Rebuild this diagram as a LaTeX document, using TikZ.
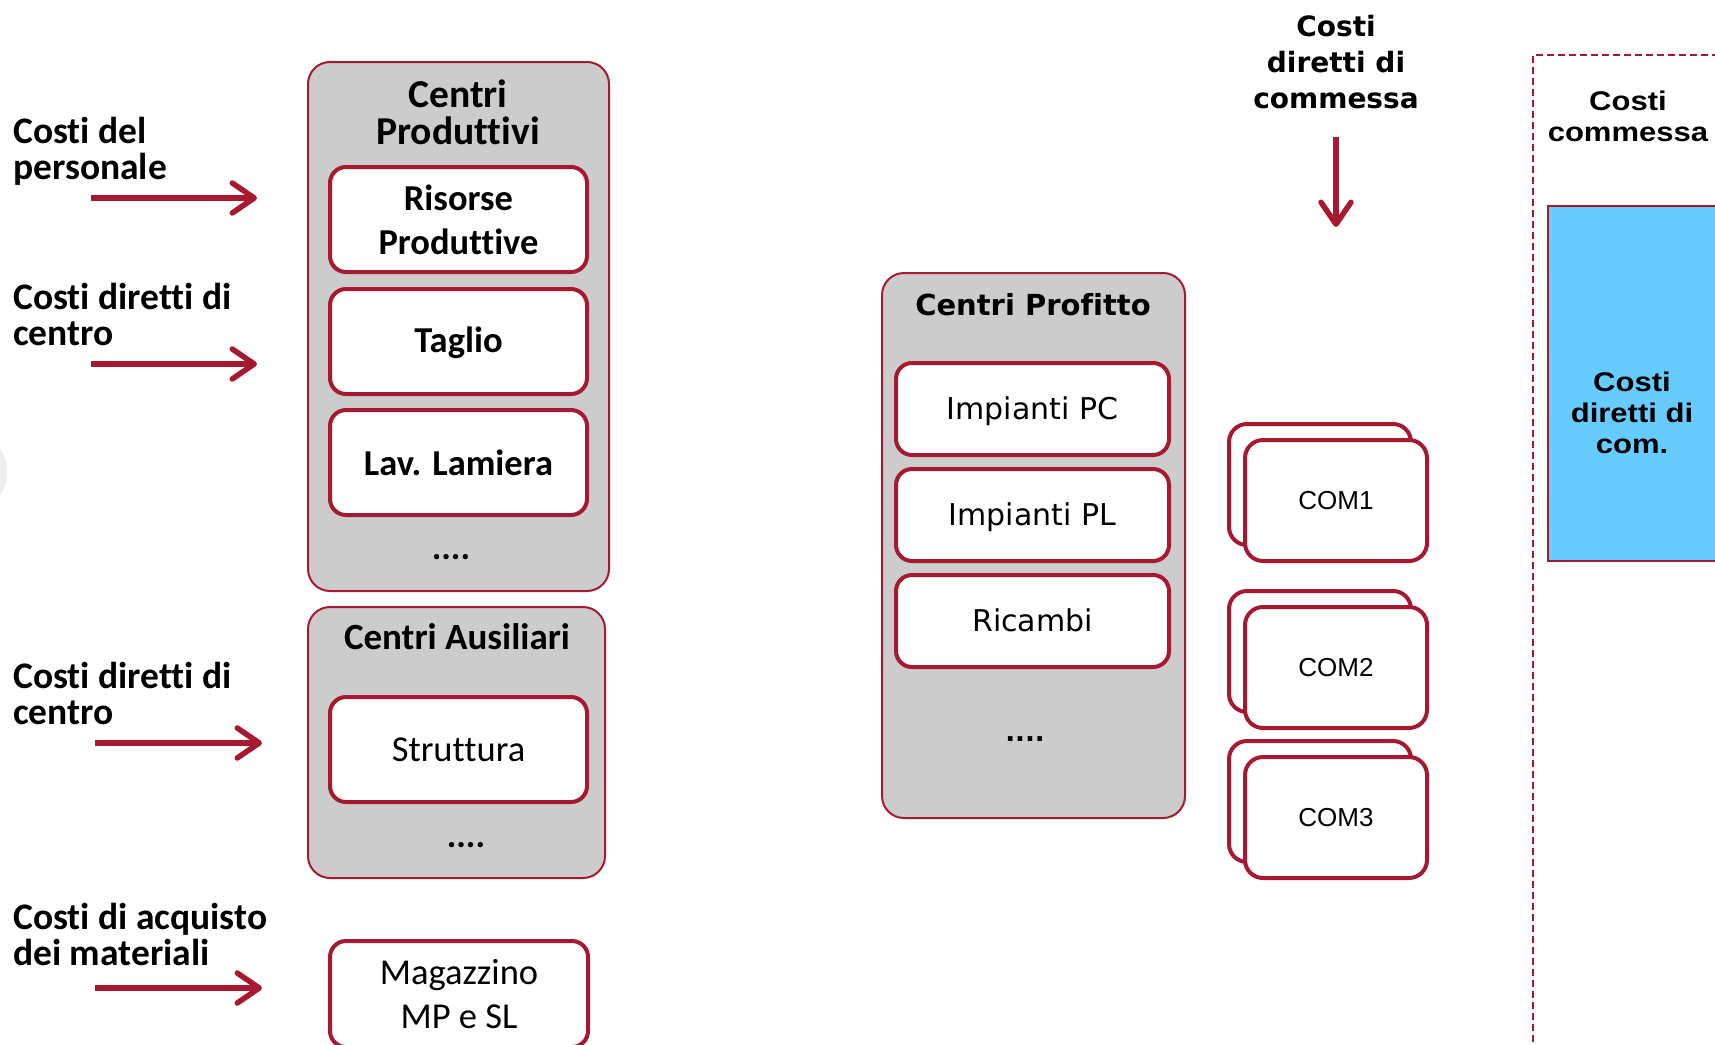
\documentclass[tikz,border=0pt]{standalone}
\usepackage{fontspec}
\setmainfont{Carlito}[Ligatures=NoCommon]
\newfontfamily\verd{DejaVu Sans}[Ligatures=NoCommon]
\newfontfamily\arialw[FakeStretch=1.15]{Liberation Sans}
\newfontfamily\arialn{Liberation Sans}
\usetikzlibrary{arrows.meta}
\definecolor{cred}{HTML}{A71930}
\definecolor{cgray}{HTML}{CCCCCC}
\definecolor{cblue}{HTML}{66CCFF}
\definecolor{clight}{HTML}{EEEEEE}
\begin{document}
\begin{tikzpicture}[x=1pt,y=-1pt,
  lab/.style={font=\fontsize{37.5}{36}\selectfont\bfseries, align=left, anchor=base west, inner sep=0pt},
  outerbox/.style={draw=cred, line width=2pt, fill=cgray, rounded corners=22pt, inner sep=0pt},
  innerbox/.style={draw=cred, line width=4pt, fill=white, rounded corners=16pt, inner sep=0pt,
     minimum width=257pt, font=\fontsize{36.5}{44}\selectfont, align=center},
  profbox/.style={draw=cred, line width=4pt, fill=white, rounded corners=16pt, inner sep=0pt,
     minimum width=273pt, minimum height=92pt, font=\verd\fontsize{30}{34}\selectfont},
  combox/.style={draw=cred, line width=4pt, fill=white, rounded corners=18pt, inner sep=0pt,
     minimum width=182pt, minimum height=121pt, font=\arialn\fontsize{26}{30}\selectfont},
  ttl/.style={font=\fontsize{37}{37}\selectfont\bfseries, align=center, inner sep=0pt, anchor=base},
  dots/.style={font=\fontsize{36}{36}\selectfont\bfseries, inner sep=0pt},
  inarrow/.style={draw=cred, line width=5.5pt, -{Straight Barb[length=22pt,width=30pt,round]}},
]
\useasboundingbox (0,0) rectangle (1715,1044);

% faint circle at the left border
\fill[clight] (-39,472) circle (46);

% ---------- left labels and arrows ----------
\node[lab] (l1) at (13,179) {Costi del\\personale};
\node[lab] (l2) at (13,345) {Costi diretti di\\centro};
\node[lab] (l3) at (13,724) {Costi diretti di\\centro};
\node[lab] (l4) at (13,965) {Costi di acquisto\\dei materiali};

\coordinate (a1s) at (91,198);  \coordinate (a1e) at (257,198);
\coordinate (a2s) at (91,364);  \coordinate (a2e) at (257,364);
\coordinate (a3s) at (95,743);  \coordinate (a3e) at (262,743);
\coordinate (a4s) at (95,988);  \coordinate (a4e) at (262,988);
\draw[inarrow] (a1s) -- (a1e);
\draw[inarrow] (a2s) -- (a2e);
\draw[inarrow] (a3s) -- (a3e);
\draw[inarrow] (a4s) -- (a4e);

% ---------- Centri Produttivi ----------
\node[outerbox, minimum width=301pt, minimum height=529pt] (cp) at (458.5,326.5) {};
\node[ttl, font=\fontsize{39.5}{37}\selectfont\bfseries] (cpt) at (458,144) {Centri\\[0pt]Produttivi};
\node[innerbox, minimum height=105pt] (rp) at (458.5,219.5) {\bfseries Risorse\\\bfseries Produttive};
\node[innerbox, minimum height=105pt, text height=31pt, text depth=9pt] (tg) at (458.5,341.5) {\bfseries Taglio};
\node[innerbox, minimum height=105pt] (ll) at (458.5,462.5) {\bfseries Lav. Lamiera};
\node[dots] (cpd) at (451,557) {....};

% ---------- Centri Ausiliari ----------
\node[outerbox, minimum width=297pt, minimum height=271pt] (ca) at (456.5,742.5) {};
\node[ttl, anchor=center] (cat) at (457,637) {Centri Ausiliari};
\node[innerbox, minimum height=105pt] (st) at (458.5,749.5) {Struttura};
\node[dots] (cad) at (466,845) {....};

% ---------- Magazzino ----------
\node[innerbox, minimum width=258pt, minimum height=106pt] (mg) at (459,994) {Magazzino\\MP e SL};

% ---------- Centri Profitto ----------
\node[outerbox, minimum width=303pt, minimum height=545pt] (cpr) at (1033.5,545.5) {};
\node[font=\verd\bfseries\fontsize{29}{34}\selectfont, inner sep=0pt] (cprt) at (1033,305) {Centri Profitto};
\node[profbox, text height=28pt, text depth=7pt] (ipc) at (1032.5,409) {Impianti PC};
\node[profbox, text height=28pt, text depth=7pt] (ipl) at (1032.5,515) {Impianti PL};
\node[profbox, text height=28pt, text depth=7pt] (ric) at (1032.5,621) {Ricambi};
\node[dots, font=\verd\bfseries\fontsize{26}{30}\selectfont] (cprd) at (1025,739) {....};

% ---------- Costi diretti di commessa ----------
\node[font=\verd\bfseries\fontsize{28}{36}\selectfont, align=center, inner sep=0pt] (cdc) at (1336,62) {Costi\\diretti di\\commessa};
\coordinate (dns) at (1336,137);
\coordinate (dne) at (1336,227);
\draw[inarrow] (dns) -- (dne);

% ---------- COM boxes ----------
\node[combox] (c1b) at (1320,484.5) {};
\node[combox] (c1) at (1336,500.5) {COM1};
\node[combox] (c2b) at (1320,651.5) {};
\node[combox] (c2) at (1336,667.5) {COM2};
\node[combox] (c3b) at (1320,801.5) {};
\node[combox] (c3) at (1336,817.5) {COM3};

% ---------- Costi commessa (dashed) ----------
\draw[cred, line width=2pt, dash pattern=on 7pt off 4pt] (1533,1042) -- (1533,55) -- (1780,55);
\node[font=\arialw\bfseries\fontsize{27}{31}\selectfont, align=center, inner sep=0pt] (ccm) at (1628,116) {Costi\\commessa};
\node[draw=cred, line width=2pt, fill=cblue, minimum width=230pt, minimum height=355pt, inner sep=0pt] (blue) at (1663,383.5) {};
\node[font=\arialw\bfseries\fontsize{27}{31}\selectfont, align=center, inner sep=0pt] (bt) at (1632,413) {Costi\\diretti di\\com.};
\end{tikzpicture}
\end{document}
